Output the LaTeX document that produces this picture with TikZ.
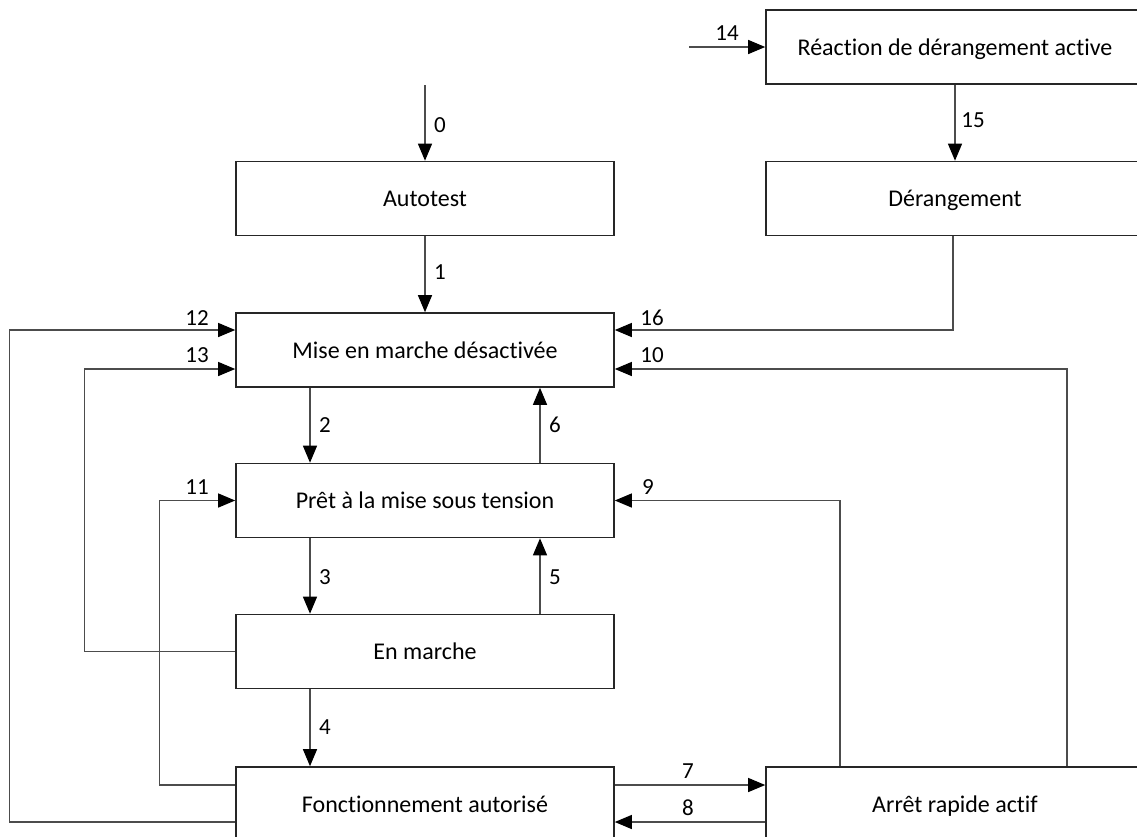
\documentclass[tikz,border=0pt]{standalone}
\usepackage{fontspec}
\setmainfont{Carlito}[Ligatures=NoCommon]
\usetikzlibrary{arrows.meta,calc}
\begin{document}
\begin{tikzpicture}[x=1pt,y=-1pt,
 box/.style={draw=black!85, line width=1.6pt, fill=white, minimum width=378pt, minimum height=74pt, inner sep=0pt, text height=17pt, text depth=1pt, font=\fontsize{24}{28}\selectfont},
 conn/.style={draw=black!70, line width=1.2pt, -{Triangle[length=17pt,width=14pt,fill=black,color=black]}},
 lbl/.style={font=\fontsize{23}{27}\selectfont, inner sep=0pt}]
\useasboundingbox (0,0) rectangle (1137,836);
\clip (0,0) rectangle (1137,836);
% boxes
\node[box] (rda)  at (955,47)    {Réaction de dérangement active};
\node[box] (der)  at (955,198.5) {Dérangement};
\node[box] (auto) at (425,198.5) {Autotest};
\node[box] (mmd)  at (425,350)   {Mise en marche désactivée};
\node[box] (pret) at (425,500.5) {Prêt à la mise sous tension};
\node[box] (enm)  at (425,651.5) {En marche};
\node[box] (fon)  at (425,804)   {Fonctionnement autorisé};
\node[box] (arr)  at (955,804)   {Arrêt rapide actif};
% free ends
\coordinate (s0) at (425,85);
\coordinate (s14) at (689,47);
% connectors
\draw[conn] (s0) -- (auto.north);
\draw[conn] (auto.south) -- (mmd.north);
\draw[conn] (s14) -- (rda.west);
\draw[conn] (rda.south) -- (der.north);
\draw[conn] ([xshift=-2pt]der.south) |- ([yshift=20pt]mmd.east);
\draw[conn] ([xshift=112pt]arr.north) |- ([yshift=-19pt]mmd.east);
\draw[conn] ([xshift=-115pt]arr.north) |- (pret.east);
\draw[conn] ([xshift=-115pt]mmd.south) -- ([xshift=-115pt]pret.north);
\draw[conn] ([xshift=115pt]pret.north) -- ([xshift=115pt]mmd.south);
\draw[conn] ([xshift=-115pt]pret.south) -- ([xshift=-115pt]enm.north);
\draw[conn] ([xshift=115pt]enm.north) -- ([xshift=115pt]pret.south);
\draw[conn] ([xshift=-115pt]enm.south) -- ([xshift=-115pt]fon.north);
\draw[conn] ([yshift=19pt]fon.east) -- ([yshift=19pt]arr.west);
\draw[conn] ([yshift=-18pt]arr.west) -- ([yshift=-18pt]fon.east);
\draw[conn] ([yshift=19pt]fon.west) -- ++(-76,0) |- (pret.west);
\draw[conn] ([yshift=-18pt]fon.west) -- ++(-226,0) |- ([yshift=20pt]mmd.west);
\draw[conn] (enm.west) -- ++(-151,0) |- ([yshift=-19pt]mmd.west);
% labels
\node[lbl] (l0)  at (440,125) {0};
\node[lbl] (l1)  at (440,272) {1};
\node[lbl] (l2)  at (325,425) {2};
\node[lbl] (l6)  at (555,425) {6};
\node[lbl] (l3)  at (325,577) {3};
\node[lbl] (l5)  at (555,577) {5};
\node[lbl] (l4)  at (325,727) {4};
\node[lbl] (l12) at (197,318) {12};
\node[lbl] (l13) at (197,355) {13};
\node[lbl] (l11) at (197,487) {11};
\node[lbl] (l16) at (652,318) {16};
\node[lbl] (l10) at (652,355) {10};
\node[lbl] (l9)  at (648,487) {9};
\node[lbl] (l7)  at (688,771) {7};
\node[lbl] (l8)  at (688,808) {8};
\node[lbl] (l14) at (727,33)  {14};
\node[lbl] (l15) at (973,120) {15};
\end{tikzpicture}
\end{document}
